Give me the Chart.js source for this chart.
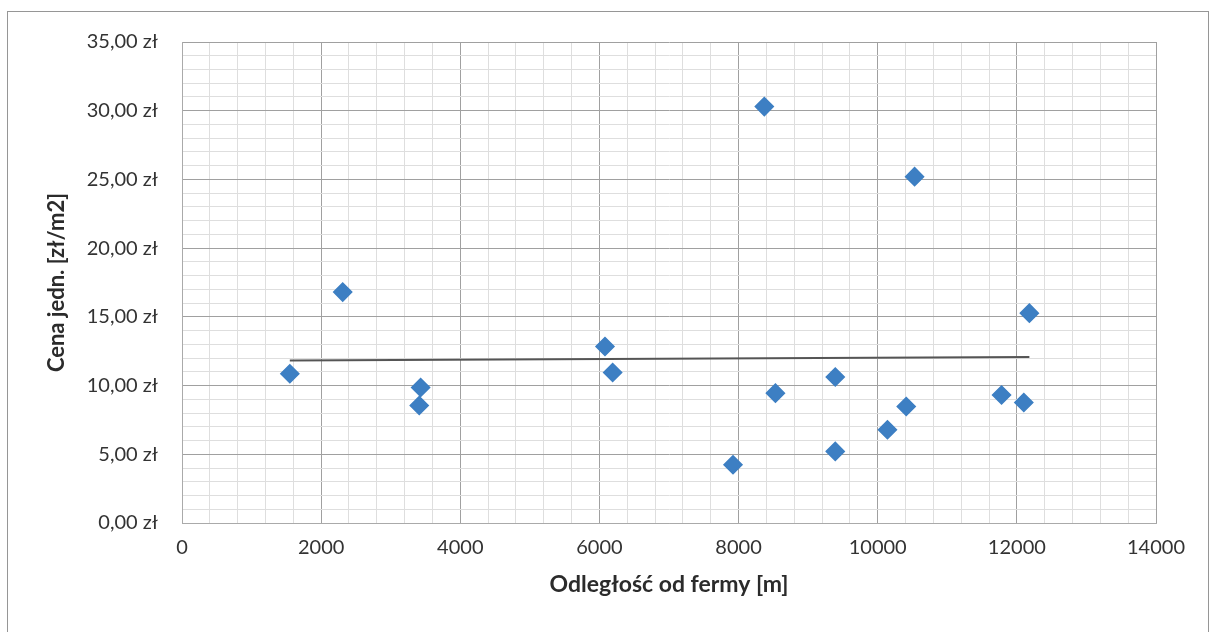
<!DOCTYPE html>
<html lang="pl">
<head>
<meta charset="utf-8">
<script src="https://cdn.jsdelivr.net/npm/chart.js@4/dist/chart.umd.min.js"></script>
<style>
  html, body { margin: 0; padding: 0; background: #fff; }
  body { width: 1212px; height: 632px; position: relative; overflow: hidden; }
  #frame {
    position: absolute; left: 7px; top: 11px; width: 1202px; height: 640px;
    border: 1.5px solid #969696; box-sizing: border-box;
  }
  #chart { position: absolute; left: 0; top: 0; }
</style>
</head>
<body>
<div id="frame"></div>
<canvas id="chart" width="1212" height="632"></canvas>
<script>
// Odległość od fermy [m] i cena jednostkowa [zł/m2] dla poszczególnych działek
const distances = [1550, 2310, 3430, 3410, 6080, 6190, 7920, 8370, 8530, 9390, 9390, 10140, 10410, 10530, 11780, 12100, 12180];
const prices    = [10.86, 16.80, 9.86, 8.55, 12.84, 10.95, 4.24, 30.30, 9.45, 10.62, 5.21, 6.79, 8.48, 25.20, 9.31, 8.77, 15.27];

// Etykiety osi (główne podziałki)
const xMajorTicks = [0, 2000, 4000, 6000, 8000, 10000, 12000, 14000];
const yMajorTicks = [0, 5, 10, 15, 20, 25, 30, 35];

const xTitle = 'Odległość od fermy [m]';
const yTitle = 'Cena jedn. [zł/m2]';

// Liniowa linia trendu (metoda najmniejszych kwadratów)
function linearTrend(xs, ys) {
  const n = xs.length;
  const mx = xs.reduce((a, b) => a + b, 0) / n;
  const my = ys.reduce((a, b) => a + b, 0) / n;
  let sxy = 0, sxx = 0;
  for (let i = 0; i < n; i++) {
    sxy += (xs[i] - mx) * (ys[i] - my);
    sxx += (xs[i] - mx) * (xs[i] - mx);
  }
  const b = sxy / sxx;
  const a = my - b * mx;
  const x0 = Math.min(...xs), x1 = Math.max(...xs);
  return [{ x: x0, y: a + b * x0 }, { x: x1, y: a + b * x1 }];
}

const points = distances.map((d, i) => ({ x: d, y: prices[i] }));
const trend = linearTrend(distances, prices);

const formatZl = v => v.toFixed(2).replace('.', ',') + ' zł';

const MAJOR = '#a0a0a0';
const MINOR = '#dedede';

new Chart(document.getElementById('chart'), {
  type: 'scatter',
  data: {
    datasets: [
      {
        label: 'Cena jedn.',
        data: points,
        pointStyle: 'rectRot',
        pointRadius: 9,
        pointHoverRadius: 9,
        backgroundColor: '#3d7fc3',
        borderColor: '#3d7fc3',
        borderWidth: 1.5,
        order: 1
      },
      {
        type: 'line',
        label: 'Trend',
        data: trend,
        borderColor: '#555555',
        borderWidth: 2,
        pointRadius: 0,
        fill: false,
        order: 2
      }
    ]
  },
  options: {
    responsive: false,
    animation: false,
    events: [],
    layout: { padding: { left: 20, right: 56, top: 42, bottom: 34 } },
    plugins: { legend: { display: false }, tooltip: { enabled: false } },
    scales: {
      x: {
        type: 'linear',
        min: 0,
        max: 14000,
        afterFit: s => { s.height = 75; },
        ticks: {
          stepSize: 400,
          autoSkip: false,
          maxTicksLimit: 100,
          maxRotation: 0,
          padding: 13,
          color: '#333333',
          font: { family: 'Lato', size: 20 },
          callback: v => xMajorTicks.includes(v) ? String(v) : ''
        },
        grid: {
          drawTicks: false,
          color: c => (c.tick && xMajorTicks.includes(c.tick.value)) ? MAJOR : MINOR,
          lineWidth: 1
        },
        border: { display: true, color: '#aaaaaa' },
        title: {
          display: true,
          text: xTitle,
          color: '#2b2b2b',
          font: { family: 'Lato', size: 23, weight: 'bold' },
          padding: { top: 0, bottom: 0 }
        }
      },
      y: {
        type: 'linear',
        min: 0,
        max: 35,
        afterFit: s => { s.width = 162; },
        ticks: {
          stepSize: 1,
          autoSkip: false,
          maxTicksLimit: 100,
          padding: 24,
          color: '#333333',
          font: { family: 'Lato', size: 20 },
          callback: v => yMajorTicks.includes(v) ? formatZl(v) : ''
        },
        grid: {
          drawTicks: false,
          color: c => (c.tick && yMajorTicks.includes(c.tick.value)) ? MAJOR : MINOR,
          lineWidth: 1
        },
        border: { display: true, color: '#aaaaaa' },
        title: {
          display: true,
          text: yTitle,
          color: '#2b2b2b',
          font: { family: 'Lato', size: 22, weight: 'bold' },
          padding: { top: 24, bottom: 0 }
        }
      }
    }
  }
});
</script>
</body>
</html>
